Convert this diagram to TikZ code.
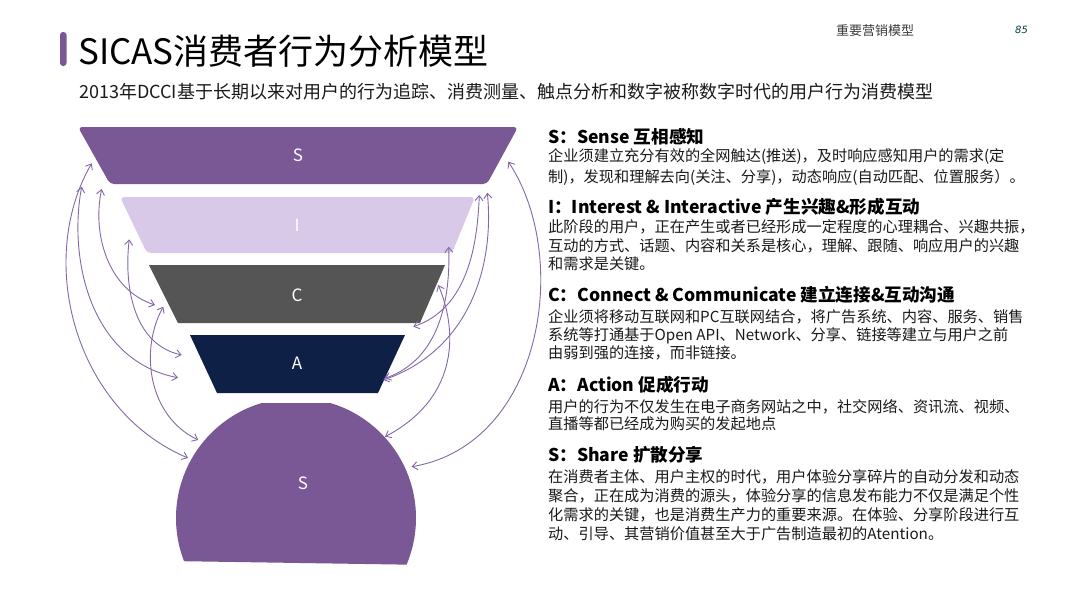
\documentclass[tikz,border=0pt]{standalone}
\usepackage{fontspec}
\setmainfont{Noto Sans CJK SC}
\newfontfamily\pgnumfont{DejaVu Sans}
\usetikzlibrary{arrows.meta}
\definecolor{sPurple}{HTML}{7A5795}
\definecolor{iLav}{HTML}{D9C9E9}
\definecolor{cGray}{HTML}{555555}
\definecolor{aNavy}{HTML}{0F2046}
\definecolor{arrowc}{HTML}{8468A8}
\definecolor{txt}{HTML}{1A1A1A}
\begin{document}
\begin{tikzpicture}[x=1pt,y=-1pt,
  arr/.style={draw=arrowc, line width=0.9pt, {Straight Barb[length=5pt,width=8pt]}-{Straight Barb[length=5pt,width=8pt]}},
  lbl/.style={text=white, font=\fontsize{17}{20}\selectfont, inner sep=0},
  head/.style={anchor=base west, inner sep=0, font=\fontsize{17.6}{20}\selectfont\bfseries, text=black},
  body/.style={anchor=base west, inner sep=0, font=\fontsize{15.2}{19}\selectfont, text=txt},
]
\useasboundingbox (0,0) rectangle (1080,608);
\fill[white] (0,0) rectangle (1080,608);

% header
\fill[sPurple, rounded corners=3pt] (60,32) rectangle (66.5,66);
\node[anchor=base west, inner sep=0, font=\fontsize{35}{40}\selectfont, text=black] (title) at (78,64) {SICAS消费者行为分析模型};
\node[anchor=base west, inner sep=0, font=\fontsize{18}{22}\selectfont, text=txt] (sub) at (79,98.3) {2013年DCCI基于长期以来对用户的行为追踪、消费测量、触点分析和数字被称数字时代的用户行为消费模型};
\node[anchor=base west, inner sep=0, font=\fontsize{13}{16}\selectfont, text=txt!85] (hdr) at (836,35) {重要营销模型};
\node[anchor=base west, inner sep=0, font=\pgnumfont\itshape\fontsize{10}{12}\selectfont, text=teal!50!black] (pg) at (1015,33.5) {85};

% funnel
\fill[sPurple, rounded corners=4pt] (110,184) -- (78,127) -- (518,127) -- (487,184) -- cycle;
\fill[iLav, rounded corners=4pt] (147,253) -- (120,197) -- (475,197) -- (452,253) -- cycle;
\fill[cGray] (178,323) -- (149,265) -- (445,265) -- (420,323) -- cycle;
\fill[aNavy] (217,393) -- (190,335) -- (405,335) -- (378,393) -- cycle;
\begin{scope}
\clip (170,403) -- (430,403) -- (430,565) -- (170,561) -- cycle;
\fill[sPurple] (296,518) circle[radius=120];
\end{scope}
\node[lbl] (nS) at (298,155) {S};
\node[lbl] (nI) at (297,225) {I};
\node[lbl] (nC) at (297,295) {C};
\node[lbl] (nA) at (297,363) {A};
\node[lbl] (nS2) at (303,483) {S};

% arrow end points
\coordinate (l1a) at (91.7,163.3); \coordinate (l1b) at (188,458);
\coordinate (l2a) at (81.7,186.7); \coordinate (l2b) at (178,377.7);
\coordinate (l3a) at (101.7,189);  \coordinate (l3b) at (155,305);
\coordinate (l4a) at (129.3,239.3); \coordinate (l4b) at (181.7,355);
\coordinate (l5a) at (163.3,306.7); \coordinate (l5b) at (198.3,440);
\coordinate (r1a) at (508.3,161.7); \coordinate (r1b) at (411.7,466.7);
\coordinate (r2a) at (479.3,195);  \coordinate (r2b) at (413.3,326.7);
\coordinate (r3a) at (487.3,192.7); \coordinate (r3b) at (383.3,380);
\coordinate (r4a) at (448.7,246.7); \coordinate (r4b) at (385,378.3);
\coordinate (r5a) at (438.3,285);  \coordinate (r5b) at (385,436.7);

\draw[arr] (l1a) .. controls (35.2,261.1) and (75,410) .. (l1b);
\draw[arr] (l2a) .. controls (67.9,260.9) and (91.5,361.1) .. (l2b);
\draw[arr] (l3a) .. controls (92,233.4) and (107.7,289.7) .. (l3b);
\draw[arr] (l4a) .. controls (124.1,281.8) and (131.4,343.9) .. (l4b);
\draw[arr] (l5a) .. controls (139.4,350.1) and (148.1,416) .. (l5b);
\draw[arr] (r1a) .. controls (571.7,257.5) and (542.6,444.4) .. (r1b);
\draw[arr] (r2a) .. controls (477.4,244.5) and (468,308.2) .. (r2b);
\draw[arr] (r3a) .. controls (494.5,265.6) and (470,350) .. (r3b);
\draw[arr] (r4a) .. controls (450.4,297.3) and (440.6,358.9) .. (r4b);
\draw[arr] (r5a) .. controls (459.8,336.6) and (455,400) .. (r5b);

% text blocks
\node[head] (h1) at (548,143.5) {S：Sense 互相感知};
\node[body] (b11) at (548,161.8) {企业须建立充分有效的全网触达(推送)，及时响应感知用户的需求(定};
\node[body] (b12) at (548,182.8) {制)，发现和理解去向(关注、分享)，动态响应(自动匹配、位置服务）。};

\node[head] (h2) at (548,213.5) {I：Interest \& Interactive 产生兴趣\&形成互动};
\node[body] (b21) at (548,232.8) {此阶段的用户，正在产生或者已经形成一定程度的心理耦合、兴趣共振，};
\node[body] (b22) at (548,251.8) {互动的方式、话题、内容和关系是核心，理解、跟随、响应用户的兴趣};
\node[body] (b23) at (548,269.8) {和需求是关键。};

\node[head] (h3) at (548,301.5) {C：Connect \& Communicate 建立连接\&互动沟通};
\node[body] (b31) at (548,322.8) {企业须将移动互联网和PC互联网结合，将广告系统、内容、服务、销售};
\node[body] (b32) at (548,340.8) {系统等打通基于Open API、Network、分享、链接等建立与用户之前};
\node[body] (b33) at (548,358.8) {由弱到强的连接，而非链接。};

\node[head] (h4) at (548,391.5) {A：Action 促成行动};
\node[body] (b41) at (548,412.8) {用户的行为不仅发生在电子商务网站之中，社交网络、资讯流、视频、};
\node[body] (b42) at (548,429.8) {直播等都已经成为购买的发起地点};

\node[head] (h5) at (548,461.5) {S：Share 扩散分享};
\node[body] (b51) at (548,482.8) {在消费者主体、用户主权的时代，用户体验分享碎片的自动分发和动态};
\node[body] (b52) at (548,501.8) {聚合，正在成为消费的源头，体验分享的信息发布能力不仅是满足个性};
\node[body] (b53) at (548,520.3) {化需求的关键，也是消费生产力的重要来源。在体验、分享阶段进行互};
\node[body] (b54) at (548,539.8) {动、引导、其营销价值甚至大于广告制造最初的Atention。};
\end{tikzpicture}
\end{document}
